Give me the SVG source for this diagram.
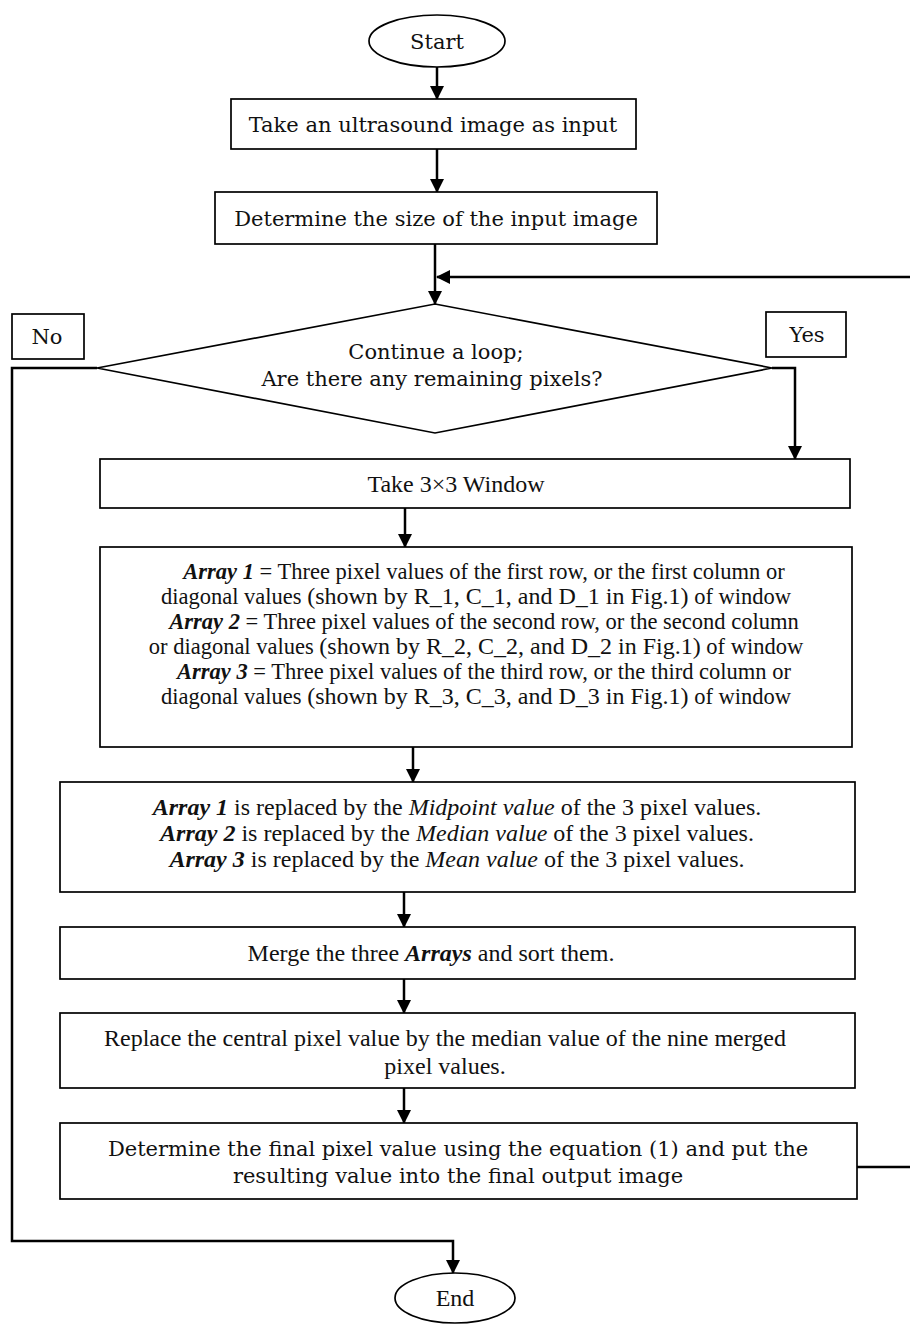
<svg xmlns="http://www.w3.org/2000/svg" width="910" height="1324" viewBox="0 0 910 1324">
<defs>
<marker id="ah" markerWidth="14" markerHeight="14" viewBox="0 0 14 14" refX="13" refY="7" orient="auto" markerUnits="userSpaceOnUse">
<path d="M0,0 L14,7 L0,14 Z" fill="#000"/>
</marker>
<style>
.box{fill:#fff;stroke:#000;stroke-width:1.7}
.conn{fill:none;stroke:#000;stroke-width:2.5}
.t1{font-family:"DejaVu Serif",serif;font-size:21px;fill:#111;text-anchor:middle}
.t2{font-family:"Liberation Serif",serif;font-size:24px;fill:#111;text-anchor:middle}
.arr{font-size:22.5px}
.big{font-size:24px}
.b{font-weight:900;font-style:italic}
.i{font-style:italic}
</style>
</defs>
<rect width="910" height="1324" fill="#fff"/>
<g id="connectors">
<line class="conn" x1="437" y1="67" x2="437" y2="99" marker-end="url(#ah)"/>
<line class="conn" x1="437" y1="149" x2="437" y2="192" marker-end="url(#ah)"/>
<line class="conn" x1="435" y1="244" x2="435" y2="304" marker-end="url(#ah)"/>
<polyline class="conn" points="857,1167 914,1167 914,277 437,277" marker-end="url(#ah)"/>
<polyline class="conn" points="97,368 12,368 12,1241 453,1241 453,1273" marker-end="url(#ah)"/>
<polyline class="conn" points="772,368 795,368 795,459" marker-end="url(#ah)"/>
<line class="conn" x1="405" y1="508" x2="405" y2="547" marker-end="url(#ah)"/>
<line class="conn" x1="413" y1="747" x2="413" y2="782" marker-end="url(#ah)"/>
<line class="conn" x1="404" y1="892" x2="404" y2="927" marker-end="url(#ah)"/>
<line class="conn" x1="404" y1="979" x2="404" y2="1013" marker-end="url(#ah)"/>
<line class="conn" x1="404" y1="1088" x2="404" y2="1123" marker-end="url(#ah)"/>
</g>
<g id="start">
<ellipse class="box" cx="437" cy="41" rx="68" ry="26"/>
<text class="t1" x="437" y="49">Start</text>
</g>
<g id="input">
<rect class="box" x="231" y="99" width="405" height="50"/>
<text class="t1" x="433" y="132">Take an ultrasound image as input</text>
</g>
<g id="size">
<rect class="box" x="215" y="192" width="442" height="52"/>
<text class="t1" x="436" y="226">Determine the size of the input image</text>
</g>
<g id="decision">
<polygon class="box" points="435,304 772,368 435,433 97,368"/>
<text class="t1" x="436" y="359">Continue a loop;</text>
<text class="t1" x="432" y="386">Are there any remaining pixels?</text>
</g>
<g id="no-label">
<rect class="box" x="12" y="314" width="72" height="45"/>
<text class="t1" x="47" y="344">No</text>
</g>
<g id="yes-label">
<rect class="box" x="766" y="312" width="80" height="45"/>
<text class="t1" x="807" y="342">Yes</text>
</g>
<g id="window">
<rect class="box" x="100" y="459" width="750" height="49"/>
<text class="t2" x="456" y="492">Take 3×3 Window</text>
</g>
<g id="arrays">
<rect class="box" x="100" y="547" width="752" height="200"/>
<text class="t2 arr" x="484" y="579"><tspan class="b">Array 1</tspan> = Three pixel values of the first row, or the first column or</text>
<text class="t2 arr" x="476" y="604">diagonal values <tspan class="big">(shown by R_1, C_1, and D_1 in Fig.1)</tspan> of window</text>
<text class="t2 arr" x="484" y="629"><tspan class="b">Array 2</tspan> = Three pixel values of the second row, or the second column</text>
<text class="t2 arr" x="476" y="654">or diagonal values <tspan class="big">(shown by R_2, C_2, and D_2 in Fig.1)</tspan> of window</text>
<text class="t2 arr" x="484" y="679"><tspan class="b">Array 3</tspan> = Three pixel values of the third row, or the third column or</text>
<text class="t2 arr" x="476" y="704">diagonal values <tspan class="big">(shown by R_3, C_3, and D_3 in Fig.1)</tspan> of window</text>
</g>
<g id="replace-arrays">
<rect class="box" x="60" y="782" width="795" height="110"/>
<text class="t2" x="457" y="815"><tspan class="b">Array 1</tspan> is replaced by the <tspan class="i">Midpoint value</tspan> of the 3 pixel values.</text>
<text class="t2" x="457" y="841"><tspan class="b">Array 2</tspan> is replaced by the <tspan class="i">Median value</tspan> of the 3 pixel values.</text>
<text class="t2" x="457" y="867"><tspan class="b">Array 3</tspan> is replaced by the <tspan class="i">Mean value</tspan> of the 3 pixel values.</text>
</g>
<g id="merge">
<rect class="box" x="60" y="927" width="795" height="52"/>
<text class="t2" x="431" y="961">Merge the three <tspan class="b">Arrays</tspan> and sort them.</text>
</g>
<g id="central">
<rect class="box" x="60" y="1013" width="795" height="75"/>
<text class="t2" x="445" y="1046">Replace the central pixel value by the median value of the nine merged</text>
<text class="t2" x="445" y="1074">pixel values.</text>
</g>
<g id="final">
<rect class="box" x="60" y="1123" width="797" height="76"/>
<text class="t1" x="458" y="1156">Determine the final pixel value using the equation (1) and put the</text>
<text class="t1" x="458" y="1183">resulting value into the final output image</text>
</g>
<g id="end">
<ellipse class="box" cx="455" cy="1298" rx="60" ry="25"/>
<text class="t2" x="455" y="1306">End</text>
</g>
</svg>
